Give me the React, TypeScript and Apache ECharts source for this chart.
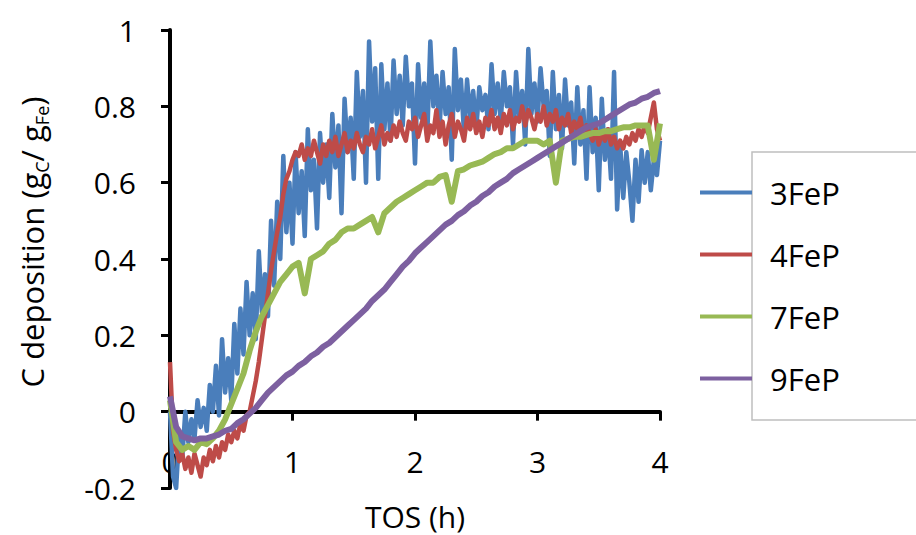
import React, { useEffect, useRef } from "react";
import * as echarts from "echarts";

// Sampling steps of the time-on-stream (TOS, h) axis for the series below
const TOS_STEP_FINE = 0.025;
const TOS_STEP = 0.05;

const xTicks = [0, 1, 2, 3, 4];
const yTicks = [-0.2, 0, 0.2, 0.4, 0.6, 0.8, 1];

const seriesNames = ["3FeP", "4FeP", "7FeP", "9FeP"];

// 3FeP, sampled every 0.025 h
const fe3 = [
  0.0, -0.17, -0.2, -0.06, -0.12, 0.0, -0.08, -0.02, -0.07, 0.03, -0.04, 0.01, -0.05, 0.07, 0.0, 0.12,
  -0.01, 0.19, 0.05, 0.14, 0.03, 0.23, 0.1, 0.27, 0.15, 0.34, 0.2, 0.31, 0.19, 0.42, 0.26, 0.36,
  0.25, 0.5, 0.33, 0.55, 0.4, 0.67, 0.47, 0.6, 0.44, 0.68, 0.52, 0.63, 0.46, 0.74, 0.58, 0.66,
  0.48, 0.73, 0.6, 0.7, 0.56, 0.78, 0.64, 0.75, 0.52, 0.82, 0.68, 0.77, 0.61, 0.89, 0.72, 0.84,
  0.6, 0.97, 0.76, 0.9, 0.61, 0.91, 0.74, 0.86, 0.71, 0.92, 0.78, 0.88, 0.75, 0.93, 0.8, 0.86,
  0.65, 0.91, 0.77, 0.86, 0.72, 0.97, 0.8, 0.88, 0.74, 0.89, 0.78, 0.85, 0.66, 0.95, 0.79, 0.87,
  0.73, 0.87, 0.77, 0.84, 0.74, 0.85, 0.79, 0.83, 0.74, 0.91, 0.78, 0.86, 0.76, 0.89, 0.8, 0.85,
  0.7, 0.89, 0.77, 0.84, 0.7, 0.95, 0.78, 0.86, 0.76, 0.9, 0.8, 0.84, 0.67, 0.89, 0.74, 0.83,
  0.69, 0.87, 0.75, 0.81, 0.65, 0.85, 0.7, 0.79, 0.61, 0.85, 0.68, 0.77, 0.58, 0.82, 0.66, 0.74,
  0.61, 0.89, 0.53, 0.7, 0.56, 0.68, 0.6, 0.5, 0.66, 0.55, 0.685, 0.6, 0.68, 0.58, 0.66, 0.62,
  0.71,
];

// 4FeP, sampled every 0.025 h
const fe4 = [
  0.13, -0.05, -0.1, -0.13, -0.11, -0.15, -0.12, -0.16, -0.11, -0.14, -0.17, -0.12, -0.14, -0.1, -0.13, -0.09,
  -0.12, -0.08, -0.1, -0.06, -0.08, -0.05, -0.07, -0.03, -0.05, -0.01, 0.0, 0.04, 0.08, 0.13, 0.19, 0.25,
  0.31, 0.37, 0.42, 0.47, 0.51, 0.57, 0.61, 0.63, 0.66, 0.68, 0.67, 0.7, 0.66, 0.69, 0.67, 0.71,
  0.68, 0.65, 0.7, 0.67, 0.71, 0.68, 0.72, 0.67, 0.7, 0.73, 0.68, 0.71, 0.69, 0.73, 0.7, 0.68,
  0.72, 0.7, 0.74, 0.69, 0.72, 0.75, 0.7, 0.73, 0.71, 0.75, 0.72, 0.76, 0.73, 0.71, 0.76, 0.74,
  0.77, 0.72, 0.75, 0.78, 0.71, 0.75, 0.73, 0.79, 0.72, 0.76, 0.7, 0.75, 0.78, 0.72, 0.76, 0.74,
  0.71, 0.77, 0.74, 0.78, 0.73, 0.76, 0.72, 0.77, 0.75, 0.79, 0.74, 0.77, 0.73, 0.78, 0.75, 0.79,
  0.74, 0.77, 0.76, 0.8, 0.75, 0.79, 0.77, 0.74, 0.78, 0.76, 0.8, 0.75, 0.78, 0.76, 0.79, 0.74,
  0.77, 0.75, 0.78, 0.73, 0.76, 0.74, 0.77, 0.72, 0.75, 0.73, 0.71, 0.74, 0.7, 0.73, 0.71, 0.74,
  0.7, 0.72, 0.69, 0.71, 0.69, 0.72, 0.7, 0.73, 0.71, 0.74, 0.72, 0.75, 0.73, 0.77, 0.81, 0.74,
  0.71,
];

// 7FeP, sampled every 0.05 h
const fe7 = [
  0.03, -0.08, -0.1, -0.09, -0.1, -0.08, -0.085, -0.07, -0.05, -0.02,
  0.02, 0.06, 0.1, 0.16, 0.21, 0.25, 0.28, 0.31, 0.34, 0.36,
  0.38, 0.39, 0.31, 0.4, 0.41, 0.42, 0.44, 0.45, 0.47, 0.48,
  0.48, 0.49, 0.5, 0.51, 0.47, 0.52, 0.535, 0.55, 0.56, 0.57,
  0.58, 0.59, 0.6, 0.6, 0.615, 0.62, 0.55, 0.63, 0.635, 0.645,
  0.65, 0.655, 0.665, 0.675, 0.68, 0.69, 0.69, 0.7, 0.71, 0.71,
  0.71, 0.7, 0.71, 0.6, 0.71, 0.715, 0.72, 0.72, 0.725, 0.73,
  0.73, 0.735, 0.735, 0.74, 0.745, 0.745, 0.75, 0.75, 0.75, 0.66,
  0.755,
];

// 9FeP, sampled every 0.05 h
const fe9 = [
  0.04, -0.04, -0.065, -0.07, -0.075, -0.07, -0.07, -0.065, -0.06, -0.05,
  -0.045, -0.03, -0.02, -0.005, 0.01, 0.03, 0.05, 0.065, 0.08, 0.095,
  0.105, 0.12, 0.13, 0.145, 0.155, 0.17, 0.18, 0.195, 0.21, 0.225,
  0.24, 0.255, 0.27, 0.29, 0.305, 0.32, 0.34, 0.36, 0.38, 0.395,
  0.415, 0.43, 0.445, 0.46, 0.475, 0.49, 0.5, 0.515, 0.525, 0.54,
  0.55, 0.565, 0.575, 0.59, 0.6, 0.61, 0.625, 0.635, 0.645, 0.655,
  0.665, 0.675, 0.685, 0.695, 0.705, 0.715, 0.725, 0.735, 0.745, 0.75,
  0.755, 0.765, 0.775, 0.785, 0.795, 0.805, 0.81, 0.82, 0.825, 0.835,
  0.84,
];

const colors = ["#4A7EBB", "#BE4B48", "#98B954", "#7D60A0"];

function toPairs(values: number[], step: number): [number, number][] {
  return values.map((v, i) => [Number((i * step).toFixed(3)), v]);
}

const FONT = "'Open Sans', 'Noto Sans', sans-serif";

export default function App() {
  const ref = useRef<HTMLDivElement>(null);

  useEffect(() => {
    document.body.style.margin = "0";
    if (!ref.current) return;
    const chart = echarts.init(ref.current, undefined, { renderer: "svg" });
    const data = [
      toPairs(fe3, TOS_STEP_FINE),
      toPairs(fe4, TOS_STEP_FINE),
      toPairs(fe7, TOS_STEP),
      toPairs(fe9, TOS_STEP),
    ];
    chart.setOption({
      animation: false,
      backgroundColor: "#ffffff",
      grid: { left: 170, right: 256, top: 30, bottom: 47, containLabel: false },
      xAxis: {
        type: "value",
        min: xTicks[0],
        max: xTicks[xTicks.length - 1],
        interval: 1,
        splitLine: { show: false },
        axisLine: { onZero: true, lineStyle: { color: "#000", width: 4 } },
        axisTick: { show: true, inside: false, length: 9, lineStyle: { color: "#000", width: 3 } },
        axisLabel: { color: "#000", fontSize: 30, fontFamily: FONT, margin: -42 },
      },
      yAxis: {
        type: "value",
        min: yTicks[0],
        max: yTicks[yTicks.length - 1],
        interval: 0.2,
        splitLine: { show: false },
        axisLine: { onZero: false, lineStyle: { color: "#000", width: 4 } },
        axisTick: { show: true, inside: false, length: 9, lineStyle: { color: "#000", width: 3 } },
        axisLabel: {
          color: "#000",
          fontSize: 30,
          fontFamily: FONT,
          margin: 34,
          formatter: (v: number) => String(Math.round(v * 10) / 10),
        },
      },
      legend: {
        orient: "vertical",
        left: 700,
        top: 177,
        padding: 0,
        itemWidth: 52,
        itemHeight: 4,
        itemGap: 31,
        icon: "rect",
        data: seriesNames,
        textStyle: { color: "#000", fontSize: 31, fontFamily: FONT, lineHeight: 30, padding: [0, 0, 0, 13] },
      },
      graphic: [
        {
          type: "rect",
          z: -1,
          shape: { x: 752, y: 152, width: 175, height: 268 },
          style: { fill: "#fff", stroke: "#BFBFBF", lineWidth: 1.5 },
        },
        {
          type: "text",
          x: 415,
          y: 516,
          style: {
            text: "TOS (h)",
            fill: "#000",
            font: `30px ${FONT}`,
            textAlign: "center",
            textVerticalAlign: "middle",
          },
        },
        {
          type: "text",
          x: 32,
          y: 242,
          rotation: Math.PI / 2,
          style: {
            text: "{n|C deposition (g}{s|C}{n|/ g}{s|Fe}{n|)}",
            fill: "#000",
            textAlign: "center",
            textVerticalAlign: "middle",
            rich: {
              n: { fontSize: 31, fontFamily: FONT, fill: "#000", lineHeight: 38, verticalAlign: "middle" },
              s: { fontSize: 18, fontFamily: FONT, fill: "#000", lineHeight: 38, verticalAlign: "bottom" },
            },
          },
        },
      ],
      series: seriesNames.map((name, i) => ({
        name,
        type: "line",
        data: data[i],
        showSymbol: false,
        symbol: "none",
        clip: true,
        color: colors[i],
        lineStyle: { width: i < 2 ? 4.5 : 6, color: colors[i], join: "round" },
      })),
    });
    return () => chart.dispose();
  }, []);

  return <div ref={ref} style={{ width: 916, height: 535 }} />;
}
